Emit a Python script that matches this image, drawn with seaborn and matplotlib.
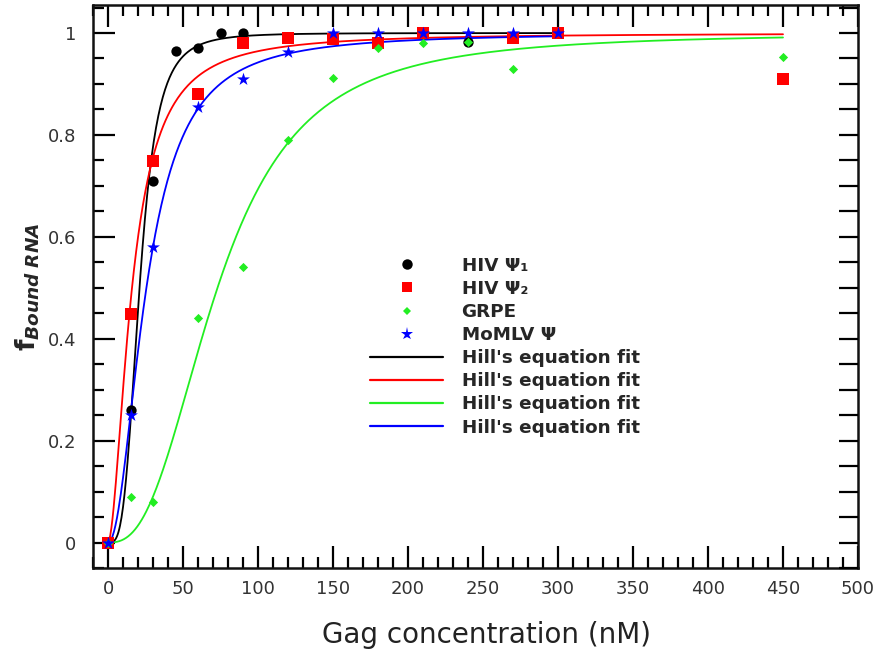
import numpy as np
import pandas as pd
import matplotlib
matplotlib.use("Agg")
import matplotlib.pyplot as plt
import seaborn as sns
from matplotlib.ticker import MultipleLocator, FuncFormatter
from matplotlib.lines import Line2D

# ---- data ----
hiv1_x = [0, 15, 30, 45, 60, 75, 90, 240]
hiv1_y = [0.0, 0.26, 0.71, 0.965, 0.97, 1.0, 1.0, 0.982]
hiv2_x = [0, 15, 30, 60, 90, 120, 150, 180, 210, 270, 300, 450]
hiv2_y = [0.0, 0.449, 0.749, 0.88, 0.98, 0.99, 0.988, 0.98, 1.0, 0.99, 1.0, 0.91]
grpe_x = [0, 15, 30, 60, 90, 120, 150, 180, 210, 240, 270, 450]
grpe_y = [0.0, 0.09, 0.08, 0.44, 0.54, 0.79, 0.912, 0.97, 0.98, 0.982, 0.93, 0.953]
momlv_x = [0, 15, 30, 60, 90, 120, 150, 180, 210, 240, 270, 300]
momlv_y = [0.0, 0.25, 0.58, 0.855, 0.91, 0.963, 1.0, 1.0, 1.0, 1.0, 1.0, 1.0]

series_labels = ["HIV \u03a8\u2081", "HIV \u03a8\u2082", "GRPE", "MoMLV \u03a8"]
fit_label = "Hill's equation fit"

# Hill's equation fit parameters: f = x^n / (K^n + x^n)
hill_K = [21.0, 16.0, 73.0, 25.6]
hill_n = [3.5, 1.8, 2.6, 2.05]
hill_xmax = [300, 450, 450, 300]

colors = ["#000000", "#ff0000", "#22ee22", "#0000ff"]
markers = ["o", "s", "D", "*"]
sizes = [55, 64, 22, 95]

# ---- plot ----
sns.set_theme(style="ticks")
plt.rcParams["font.family"] = ["DejaVu Sans"]
plt.rcParams["xtick.direction"] = "in"
plt.rcParams["ytick.direction"] = "in"

fig = plt.figure(figsize=(8.81, 6.49), dpi=100)
ax = fig.add_axes([93 / 881, 1 - 568 / 649, 765 / 881, 563 / 649])

# fit curves
for K, n, xm, c in zip(hill_K, hill_n, hill_xmax, colors):
    xs = np.linspace(0, xm, 600)
    ys = xs ** n / (K ** n + xs ** n)
    df = pd.DataFrame({"x": xs, "y": ys})
    sns.lineplot(data=df, x="x", y="y", color=c, linewidth=1.3, ax=ax,
                 sort=False, estimator=None, zorder=2)

# data points
xs_all = [hiv1_x, hiv2_x, grpe_x, momlv_x]
ys_all = [hiv1_y, hiv2_y, grpe_y, momlv_y]
for x, y, c, m, s in zip(xs_all, ys_all, colors, markers, sizes):
    sns.scatterplot(x=x, y=y, color=c, marker=m, s=s, linewidth=0,
                    edgecolor=c, ax=ax, zorder=3)

ax.set_xlim(-10, 500)
ax.set_ylim(-0.05, 1.055)

ax.xaxis.set_major_locator(MultipleLocator(50))
ax.xaxis.set_minor_locator(MultipleLocator(10))
ax.yaxis.set_major_locator(MultipleLocator(0.2))
ax.yaxis.set_minor_locator(MultipleLocator(0.05))
ax.yaxis.set_major_formatter(FuncFormatter(lambda v, p: "%g" % round(v, 2)))

ax.tick_params(which="both", direction="in", top=True, right=False,
               width=1.6, colors="black", labelcolor="#333333", labelsize=13)
ax.tick_params(axis="y", which="major", length=16, pad=12)
ax.tick_params(axis="x", which="major", length=16, pad=9)
ax.tick_params(which="minor", length=8)
for sp in ax.spines.values():
    sp.set_linewidth(1.8)
    sp.set_color("#111111")

# right side: evenly spaced ticks of one length
ax2 = ax.twinx()
ax2.set_ylim(ax.get_ylim())
ax2.yaxis.set_major_locator(MultipleLocator(0.05))
ax2.tick_params(axis="y", direction="in", length=14, width=1.6, labelright=False,
                colors="black")
for sp in ax2.spines.values():
    sp.set_visible(False)

ax.set_xlabel("Gag concentration (nM)", fontsize=20, color="#222222", labelpad=16)
ax.xaxis.label.set_x(0.515)
ax.set_ylabel(r"$\mathbf{f}_{\mathbfit{Bound\ RNA}}$", fontsize=19, labelpad=4)

# legend
pt_handles = [Line2D([], [], linestyle="none", marker=m, color=c,
                     markersize=ms, markeredgewidth=0)
              for m, c, ms in zip(markers, colors, [7.5, 7.5, 4.5, 9.5])]
lh = [Line2D([], [], color=c, linewidth=1.6) for c in colors]
ax.legend(pt_handles + lh, series_labels + [fit_label] * 4,
          loc="upper left", bbox_to_anchor=(0.362, 0.553),
          frameon=False, handlelength=4.0, handletextpad=1.0,
          labelspacing=0.28, borderpad=0, borderaxespad=0,
          prop={"weight": "bold", "size": 13.2})

fig.savefig("out.png", dpi=100)
